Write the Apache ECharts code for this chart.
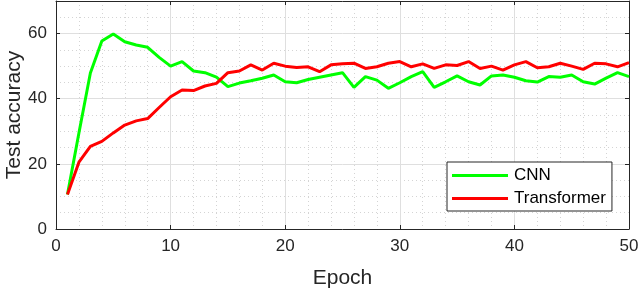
<!DOCTYPE html>
<html>
<head>
<meta charset="utf-8">
<script src="https://cdn.jsdelivr.net/npm/echarts@6/dist/echarts.min.js"></script>
<style>
html,body{margin:0;padding:0;background:#fff;}
#c{width:640px;height:289px;}
</style>
</head>
<body>
<div id="c"></div>
<script>
var epochs = [1,2,3,4,5,6,7,8,9,10,11,12,13,14,15,16,17,18,19,20,21,22,23,24,25,26,27,28,29,30,31,32,33,34,35,36,37,38,39,40,41,42,43,44,45,46,47,48,49,50];
var cnn = [10.6,29.5,47.9,57.7,59.9,57.5,56.5,55.8,52.7,50.0,51.4,48.5,48.0,46.6,43.7,44.8,45.5,46.3,47.3,45.2,44.9,45.9,46.6,47.3,48.0,43.5,46.8,45.7,43.2,44.9,46.8,48.3,43.5,45.2,47.0,45.2,44.2,47.0,47.3,46.6,45.5,45.1,46.8,46.6,47.3,45.2,44.5,46.3,48.0,46.8];
var transformer = [10.6,20.5,25.4,26.9,29.5,31.9,33.2,33.9,37.3,40.6,42.7,42.5,43.9,44.7,48.0,48.5,50.4,48.8,50.9,50.0,49.6,49.8,48.3,50.4,50.7,50.9,49.3,49.8,50.9,51.4,49.8,50.7,49.3,50.4,50.2,51.4,49.3,50.0,48.8,50.4,51.4,49.5,49.8,50.9,50.0,49.0,50.9,50.7,49.8,51.1];
var seriesNames = ['CNN','Transformer'];
var xTicks = [0,10,20,30,40,50];
var yTicks = [0,20,40,60];

function pairs(vals){ return epochs.map(function(e,i){ return [e, vals[i]]; }); }

var font = 'Liberation Sans, Arial, sans-serif';
var axisColor = '#262626';
var chart = echarts.init(document.getElementById('c'), null, {renderer:'canvas'});
chart.setOption({
  animation:false,
  backgroundColor:'#fff',
  grid:{left:56, right:11, top:1, bottom:60, containLabel:false, outerBoundsMode:'none'},
  xAxis:[{
    type:'value', min:0, max:50, interval:10, position:'bottom',
    name:'Epoch', nameLocation:'middle', nameGap:39,
    nameTextStyle:{fontFamily:font, fontSize:21, color:axisColor},
    axisLine:{show:true, onZero:false, lineStyle:{color:axisColor, width:1}},
    axisTick:{show:true, inside:true, length:4, lineStyle:{color:axisColor}},
    axisLabel:{show:true, margin:9, fontFamily:font, fontSize:17, color:axisColor,
      formatter:function(v){ return xTicks.indexOf(v)>=0 ? String(v) : ''; }},
    splitLine:{show:true, lineStyle:{color:'#dfdfdf', width:1}},
    minorTick:{show:false, splitNumber:5},
    minorSplitLine:{show:true, lineStyle:{color:'#d4d4d4', width:1, type:[1,3]}}
  },{
    type:'value', min:0, max:50, interval:10, position:'top',
    axisLine:{show:true, onZero:false, lineStyle:{color:axisColor, width:1}},
    axisTick:{show:true, inside:true, length:4, lineStyle:{color:axisColor}},
    axisLabel:{show:false}, splitLine:{show:false}
  }],
  yAxis:[{
    type:'value', min:0, max:70, interval:20, position:'left',
    name:'Test accuracy', nameLocation:'middle', nameGap:31, nameRotate:90, nameMoveOverlap:false,
    nameTextStyle:{fontFamily:font, fontSize:21, color:axisColor},
    axisLine:{show:true, onZero:false, lineStyle:{color:axisColor, width:1}},
    axisTick:{show:true, inside:true, length:4, lineStyle:{color:axisColor}},
    axisLabel:{show:true, margin:9, fontFamily:font, fontSize:17, color:axisColor,
      formatter:function(v){ return yTicks.indexOf(v)>=0 ? String(v) : ''; }},
    splitLine:{show:true, lineStyle:{color:'#dfdfdf', width:1}},
    minorTick:{show:false, splitNumber:4},
    minorSplitLine:{show:true, lineStyle:{color:'#d4d4d4', width:1, type:[1,3]}}
  },{
    type:'value', min:0, max:70, interval:20, position:'right',
    axisLine:{show:true, onZero:false, lineStyle:{color:axisColor, width:1}},
    axisTick:{show:true, inside:true, length:4, lineStyle:{color:axisColor}},
    axisLabel:{show:false}, splitLine:{show:false}
  }],
  legend:{
    show:true, orient:'vertical', left:447, top:162,
    padding:[5,6,4,5], itemGap:6, itemWidth:56, itemHeight:3, icon:'rect',
    backgroundColor:'#fff', borderColor:axisColor, borderWidth:1, borderRadius:0,
    textStyle:{fontFamily:font, fontSize:17, color:'#000', padding:[0,0,0,1]},
    data:seriesNames
  },
  series:[{
    name:seriesNames[0], type:'line', data:pairs(cnn), xAxisIndex:0, yAxisIndex:0,
    symbol:'none', lineStyle:{color:'#00ff00', width:3}, itemStyle:{color:'#00ff00'}, z:3
  },{
    name:seriesNames[1], type:'line', data:pairs(transformer), xAxisIndex:0, yAxisIndex:0,
    symbol:'none', lineStyle:{color:'#ff0000', width:3}, itemStyle:{color:'#ff0000'}, z:4
  }]
});
</script>
</body>
</html>
